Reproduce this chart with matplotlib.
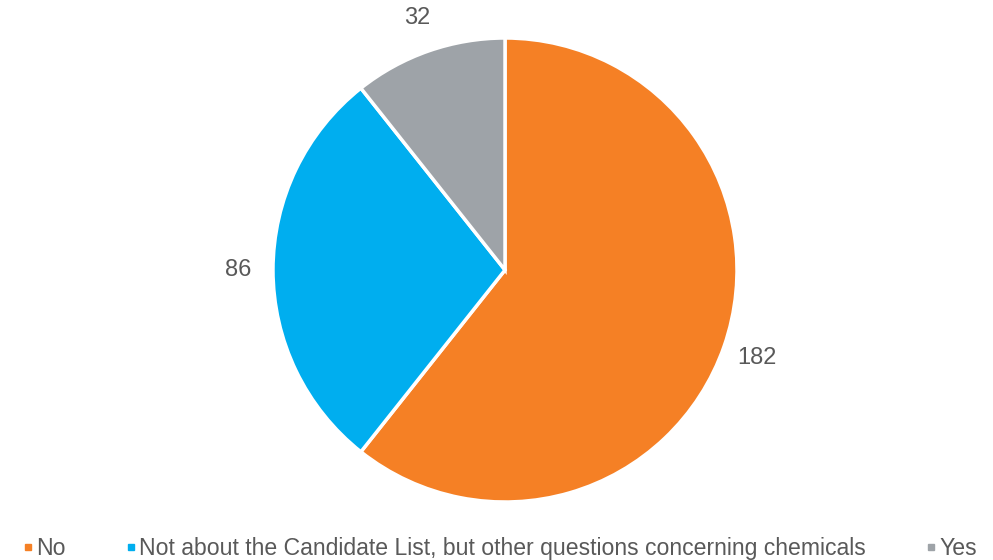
import matplotlib.pyplot as plt
from matplotlib.lines import Line2D

plt.rcParams['font.family'] = ['Liberation Sans', 'DejaVu Sans']

categories = ["No", "Not about the Candidate List, but other questions concerning chemicals", "Yes"]
values = [182, 86, 32]
colors = ["#F58025", "#00AEEF", "#9EA3A8"]
text_color = "#595959"

fig = plt.figure(figsize=(9.93, 5.6), dpi=100)
ax = fig.add_axes([273 / 993, 58 / 560, 464 / 993, 464 / 560])

wedges, texts = ax.pie(values, colors=colors, startangle=90, counterclock=False,
                       labels=[str(v) for v in values], labeldistance=1.15,
                       wedgeprops=dict(edgecolor="white", linewidth=2.5),
                       textprops=dict(color=text_color, fontsize=17))
for t in texts:
    t.set_horizontalalignment("center")
    t.set_verticalalignment("center")
    t.set_clip_on(False)
ax.set_xlim(-1, 1)
ax.set_ylim(-1, 1)
ax.set_aspect("equal")

handles = [Line2D([0], [0], marker="s", linestyle="", markersize=5,
                  markerfacecolor=c, markeredgecolor=c) for c in colors]
leg = fig.legend(handles, categories, loc="lower center", bbox_to_anchor=(0.503, -0.037),
                 ncol=3, frameon=False, fontsize=16.6, handletextpad=0.1,
                 columnspacing=2.6, handlelength=0.5)
for t in leg.get_texts():
    t.set_color(text_color)

fig.savefig("out.png", dpi=100)
